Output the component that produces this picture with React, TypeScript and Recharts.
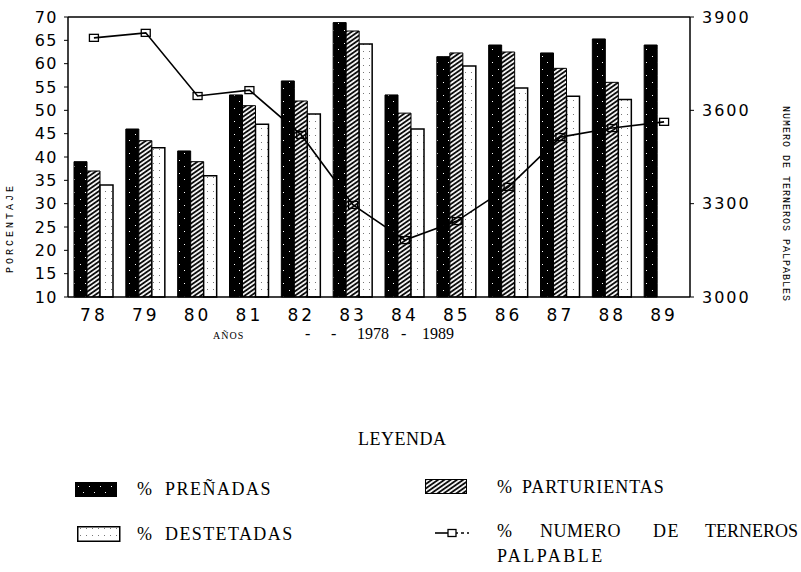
import React from 'react';
import { ComposedChart, Bar, Line, XAxis, YAxis, ReferenceLine } from 'recharts';

const years = ['78', '79', '80', '81', '82', '83', '84', '85', '86', '87', '88', '89'];
const prenadas = [39, 46, 41.3, 53.3, 56.3, 68.8, 53.3, 61.5, 64, 62.3, 65.3, 64];
const parturientas = [37, 43.5, 39, 51, 52, 67, 49.4, 62.3, 62.5, 59, 56, null];
const destetadas = [34, 42, 36, 47, 49.2, 64.2, 46, 59.5, 54.8, 53, 52.3, null];
const terneros = [3833, 3849, 3646, 3665, 3521, 3296, 3183, 3244, 3354, 3514, 3543, 3563];
const leftTicks = [10, 15, 20, 25, 30, 35, 40, 45, 50, 55, 60, 65, 70];
const rightTicks = [3000, 3300, 3600, 3900];

const data = years.map((y, i) => ({
  year: y,
  prenadas: prenadas[i],
  parturientas: parturientas[i],
  destetadas: destetadas[i],
  terneros: terneros[i],
}));

const serif = '"Liberation Serif", "DejaVu Serif", serif';
const sans = '"DejaVu Sans", sans-serif';
const mono = '"Liberation Mono", "DejaVu Sans Mono", monospace';

const SquareDot = (props: any) => {
  const { cx, cy } = props;
  if (cx == null || cy == null) return null;
  return <rect x={cx - 4.5} y={cy - 3.5} width={9} height={7} fill="none" stroke="#000" strokeWidth={1.3} />;
};

const T = ({ x, y, size = 18, children, style = {} }: any) => (
  <div
    style={{
      position: 'absolute',
      left: x,
      top: y - size * 0.55,
      fontSize: size,
      lineHeight: `${size}px`,
      fontFamily: serif,
      color: '#000',
      whiteSpace: 'pre',
      ...style,
    }}
  >
    {children}
  </div>
);

export default function App() {
  return (
    <div style={{ position: 'absolute', left: 0, top: 0, width: 801, height: 572, background: '#fff', overflow: 'hidden' }}>
      <svg width={0} height={0} style={{ position: 'absolute' }}>
        <defs>
          <pattern id="hatch" patternUnits="userSpaceOnUse" width={3.6} height={3.6} patternTransform="rotate(-35)">
            <rect width={3.6} height={3.6} fill="#fff" />
            <line x1={0} y1={1} x2={3.6} y2={1} stroke="#000" strokeWidth={1.8} />
          </pattern>
          <pattern id="dark" patternUnits="userSpaceOnUse" width={11} height={13}>
            <rect width={11} height={13} fill="#000" />
            <rect x={3} y={4} width={1} height={1} fill="#fff" />
            <rect x={8} y={10} width={1} height={1} fill="#fff" />
          </pattern>
          <pattern id="dots" patternUnits="userSpaceOnUse" width={6} height={7}>
            <rect width={6} height={7} fill="#fff" />
            <rect x={3} y={2} width={1} height={1} fill="#777" />
          </pattern>
        </defs>
      </svg>

      <ComposedChart
        width={801}
        height={340}
        data={data}
        margin={{ top: 17, right: 0, left: 0, bottom: 0 }}
        barCategoryGap={6}
        barGap={0}
      >
        <XAxis
          dataKey="year"
          height={43}
          tickLine={false}
          axisLine={{ stroke: '#000', strokeWidth: 1.5 }}
          tickMargin={6}
          tick={{ fontSize: 17, fill: '#000', fontFamily: sans, letterSpacing: 3 }}
          interval={0}
        />
        <YAxis
          yAxisId="left"
          width={68}
          domain={[10, 70]}
          ticks={leftTicks}
          interval={0}
          tickSize={4}
          tickMargin={6}
          tickLine={{ stroke: '#000' }}
          axisLine={{ stroke: '#000', strokeWidth: 1.5 }}
          tick={{ fontSize: 16, fill: '#000', fontFamily: sans, letterSpacing: 1.5 }}
        />
        <YAxis
          yAxisId="right"
          orientation="right"
          width={111}
          domain={[3000, 3900]}
          ticks={rightTicks}
          interval={0}
          tickSize={4}
          tickMargin={8}
          tickLine={{ stroke: '#000' }}
          axisLine={{ stroke: '#000', strokeWidth: 1.5 }}
          tick={{ fontSize: 16, fill: '#000', fontFamily: sans, letterSpacing: 2 }}
        />
        <ReferenceLine yAxisId="left" y={70} stroke="#000" strokeWidth={1.5} />
        <Bar yAxisId="left" dataKey="prenadas" fill="url(#dark)" stroke="#000" strokeWidth={1} isAnimationActive={false} />
        <Bar yAxisId="left" dataKey="parturientas" fill="url(#hatch)" stroke="#000" strokeWidth={1} isAnimationActive={false} />
        <Bar yAxisId="left" dataKey="destetadas" fill="url(#dots)" stroke="#000" strokeWidth={1.5} isAnimationActive={false} />
        <Line
          yAxisId="right"
          dataKey="terneros"
          type="linear"
          stroke="#000"
          strokeWidth={1.6}
          dot={<SquareDot />}
          activeDot={false}
          isAnimationActive={false}
        />
      </ComposedChart>

      {/* axis titles */}
      <div
        style={{
          position: 'absolute',
          left: 10,
          top: 228,
          transform: 'translate(-50%, -50%) rotate(-90deg)',
          fontFamily: mono,
          fontSize: 10,
          letterSpacing: 3,
          whiteSpace: 'nowrap',
        }}
      >
        PORCENTAJE
      </div>
      <div
        style={{
          position: 'absolute',
          left: 785,
          top: 204,
          transform: 'translate(-50%, -50%) rotate(90deg)',
          fontFamily: mono,
          fontSize: 10,
          letterSpacing: 1,
          whiteSpace: 'nowrap',
        }}
      >
        NUMERO DE TERNEROS PALPABLES
      </div>

      <T x={213} y={336} size={10} style={{ letterSpacing: 1 }}>AÑOS</T>
      <T x={305} y={335} size={16}>-</T>
      <T x={331} y={335} size={16}>-</T>
      <T x={357} y={335} size={16}>1978</T>
      <T x={401} y={335} size={16}>-</T>
      <T x={422} y={335} size={16}>1989</T>

      {/* legend */}
      <T x={358} y={440} style={{ letterSpacing: 0.5 }}>LEYENDA</T>

      <svg style={{ position: 'absolute', left: 75, top: 482 }} width={43} height={16}>
        <rect x={0.5} y={0.5} width={41} height={14} fill="url(#dark)" stroke="#000" />
      </svg>
      <T x={137} y={490}>%</T>
      <T x={165} y={490} style={{ letterSpacing: 1.5 }}>PREÑADAS</T>

      <svg style={{ position: 'absolute', left: 425, top: 479 }} width={43} height={16}>
        <rect x={0.5} y={0.5} width={41} height={14} fill="url(#hatch)" stroke="#000" />
      </svg>
      <T x={497} y={488}>%</T>
      <T x={522} y={488} style={{ letterSpacing: 1 }}>PARTURIENTAS</T>

      <svg style={{ position: 'absolute', left: 77, top: 526 }} width={44} height={17}>
        <rect x={0.75} y={0.75} width={42} height={14.5} fill="url(#dots)" stroke="#000" strokeWidth={1.5} />
      </svg>
      <T x={137} y={535}>%</T>
      <T x={165} y={535} style={{ letterSpacing: 1.4 }}>DESTETADAS</T>

      <svg style={{ position: 'absolute', left: 433, top: 526 }} width={40} height={14}>
        <line x1={2} y1={7} x2={22} y2={7} stroke="#000" strokeWidth={1.6} />
        <line x1={22} y1={7} x2={36} y2={7} stroke="#000" strokeWidth={1.3} strokeDasharray="3 3" />
        <rect x={15} y={3.5} width={8} height={7} fill="#fff" stroke="#000" strokeWidth={1.3} />
      </svg>
      <T x={497} y={532}>%</T>
      <T x={540} y={532} style={{ letterSpacing: 0.5 }}>NUMERO</T>
      <T x={653} y={532} style={{ letterSpacing: 1.5 }}>DE</T>
      <T x={705} y={532}>TERNEROS</T>
      <T x={497} y={557} style={{ letterSpacing: 2.5 }}>PALPABLE</T>
    </div>
  );
}
